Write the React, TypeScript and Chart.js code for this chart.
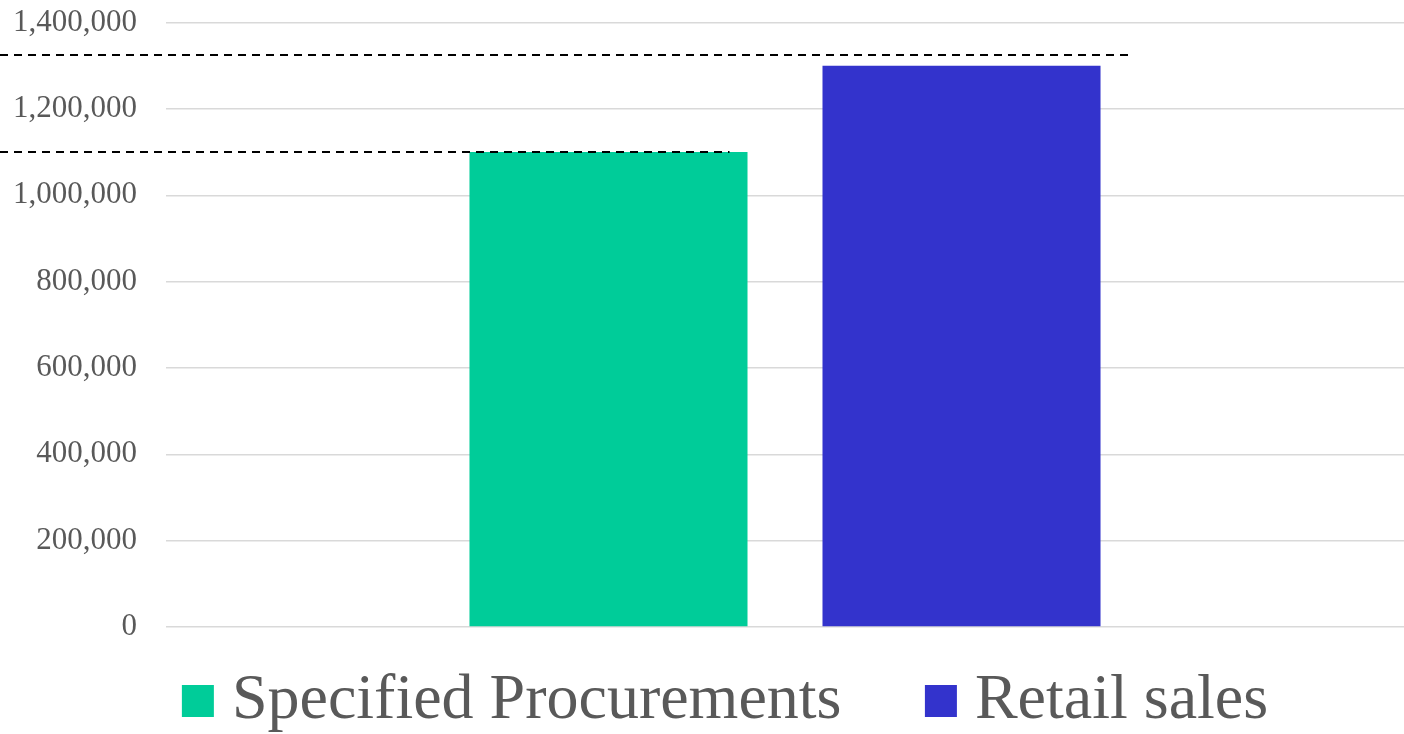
import { useEffect, useRef } from "react";
import { Chart, registerables } from "chart.js";

Chart.register(...registerables);

// ---- data ----
const categories = ["Total"];
const seriesLabels = ["Specified Procurements", "Retail sales"];
const specifiedProcurements = [1100000];
const retailSales = [1300000];
const referenceLines = [1100000, 1325000];
const yMin = 0;
const yMax = 1400000;
const yStep = 200000;

// ---- styling ----
const FONT = "'Liberation Serif', 'Times New Roman', serif";
const TEXT = "#595959";
const COLORS = ["#00CC99", "#3333CC"];
const dashExtend = [-18, 29];

const refDashPlugin = {
  id: "refDash",
  afterDatasetsDraw(chart: any) {
    const { ctx } = chart;
    const y = chart.scales.y;
    ctx.save();
    ctx.setLineDash([8, 6]);
    ctx.lineWidth = 2;
    ctx.strokeStyle = "#000000";
    referenceLines.forEach((v, i) => {
      const meta = chart.getDatasetMeta(i);
      const bar = meta && meta.data[0];
      if (!bar) return;
      const p = bar.getProps(["x", "width"], true);
      const yy = Math.round(y.getPixelForValue(v));
      const end = p.x + p.width / 2 + dashExtend[i];
      ctx.beginPath();
      ctx.moveTo(0, yy);
      ctx.lineTo(end, yy);
      ctx.stroke();
    });
    ctx.restore();
  },
};

// invisible legend entries used only to space the visible ones
const spacer = (text: string) => ({
  text,
  fillStyle: "rgba(0,0,0,0)",
  strokeStyle: "rgba(0,0,0,0)",
  lineWidth: 0,
  hidden: false,
  pointStyle: "rect",
  fontColor: "rgba(0,0,0,0)",
  datasetIndex: -1,
});

export default function App() {
  const canvasRef = useRef<HTMLCanvasElement | null>(null);

  useEffect(() => {
    const prevMargin = document.body.style.margin;
    document.body.style.margin = "0";
    const canvas = canvasRef.current;
    if (!canvas) return;
    const chart = new Chart(canvas, {
      type: "bar",
      data: {
        labels: categories,
        datasets: [
          {
            label: seriesLabels[0],
            data: specifiedProcurements,
            backgroundColor: COLORS[0],
            borderWidth: 0,
          },
          {
            label: seriesLabels[1],
            data: retailSales,
            backgroundColor: COLORS[1],
            borderWidth: 0,
          },
        ],
      },
      options: {
        animation: false,
        responsive: true,
        maintainAspectRatio: false,
        layout: { padding: { top: 0, left: 0, right: 0, bottom: 0 } },
        datasets: {
          bar: { categoryPercentage: 0.5703, barPercentage: 0.7876 },
        },
        scales: {
          x: { display: false },
          y: {
            min: yMin,
            max: yMax,
            border: { display: false },
            grid: {
              color: "#D9D9D9",
              lineWidth: 1.5,
              drawTicks: true,
              tickLength: 25,
              tickColor: "rgba(0,0,0,0)",
            },
            ticks: {
              stepSize: yStep,
              padding: 4,
              color: TEXT,
              font: { family: FONT, size: 31 },
              callback: (v: any) => Number(v).toLocaleString("en-US"),
            },
            afterFit: (scale: any) => {
              scale.width = 166;
            },
          },
        },
        plugins: {
          tooltip: { enabled: false },
          legend: {
            position: "bottom",
            maxHeight: 107,
            onClick: () => {},
            title: { display: true, text: "", font: { size: 29.5, lineHeight: 1 }, padding: 0 },
            labels: {
              color: TEXT,
              font: { family: FONT, size: 64 },
              usePointStyle: true,
              pointStyle: "rect",
              boxWidth: 4,
              boxHeight: 32,
              padding: 12.5,
              generateLabels: (c: any) => {
                const items = (Chart.defaults as any).plugins.legend.labels.generateLabels(c);
                items.forEach((it: any) => {
                  it.pointStyle = "rect";
                  it.lineWidth = 0;
                });
                return [spacer("'"), items[0], spacer("s'"), ...items.slice(1)];
              },
            },
          },
        },
      } as any,
      plugins: [refDashPlugin],
    });
    return () => {
      chart.destroy();
      document.body.style.margin = prevMargin;
    };
  }, []);

  return (
    <div style={{ position: "relative", width: 1404, height: 734 }}>
      <canvas ref={canvasRef} />
    </div>
  );
}
